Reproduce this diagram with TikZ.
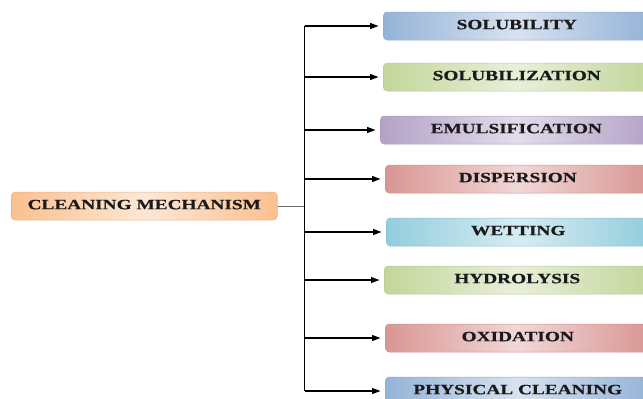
\documentclass[tikz,border=0pt]{standalone}
\usepackage{fontspec}
\newfontfamily\labfont[FakeStretch=1.36,FakeBold=0.6]{Liberation Serif}
\usetikzlibrary{arrows.meta}
\definecolor{cblue}{HTML}{95B3D7}
\definecolor{cgreen}{HTML}{C3D69B}
\definecolor{cpurple}{HTML}{B3A2C7}
\definecolor{cred}{HTML}{D99694}
\definecolor{caqua}{HTML}{93CDDD}
\definecolor{corange}{HTML}{FAC08F}
\definecolor{ctext}{HTML}{1A1A1A}
\tikzset{
  mbox/.style={rounded corners=4pt, minimum height=28pt, inner sep=0pt,
    anchor=west, text=ctext, text depth=3pt,
    font=\labfont\bfseries\fontsize{14.2}{16}\selectfont,
    left color=#1, right color=#1, middle color=#1!38!white,
    draw=#1!85!gray, line width=0.5pt},
  conn/.style={line width=1.1pt, black, -{Triangle[length=8.5pt,width=6pt]}, shorten >=4.5pt},
  trunk/.style={line width=1.1pt, black},
  feed/.style={line width=1pt, gray!85!black}
}
\begin{document}
\begin{tikzpicture}[x=1pt,y=-1pt]
\useasboundingbox (0,0) rectangle (643,399);
\clip (0,0) rectangle (643,399);
\node[mbox=corange, minimum width=266pt] (c) at (11,206) {CLEANING MECHANISM};
\node[mbox=cblue,   minimum width=267pt] (b1) at (383,26) {SOLUBILITY};
\node[mbox=cgreen,  minimum width=267pt] (b2) at (383,77) {SOLUBILIZATION};
\node[mbox=cpurple, minimum width=272pt] (b3) at (380,130) {EMULSIFICATION};
\node[mbox=cred,    minimum width=265pt] (b4) at (385,179) {DISPERSION};
\node[mbox=caqua,   minimum width=264pt] (b5) at (386,232) {WETTING};
\node[mbox=cgreen,  minimum width=266pt] (b6) at (384,280) {HYDROLYSIS};
\node[mbox=cred,    minimum width=265pt] (b7) at (385,338) {OXIDATION};
\node[mbox=cblue,   minimum width=265pt] (b8) at (385,391) {PHYSICAL CLEANING};
\coordinate (vt) at (304.5,26);
\coordinate (vb) at (304.5,391);
\coordinate (vm) at (304.5,206);
\draw[feed] (c.east) -- (vm);
\draw[trunk] (vt) -- (vb);
\foreach \i in {1,...,8} {
  \draw[conn] (vt |- b\i.west) -- (b\i.west);
}
\end{tikzpicture}
\end{document}
